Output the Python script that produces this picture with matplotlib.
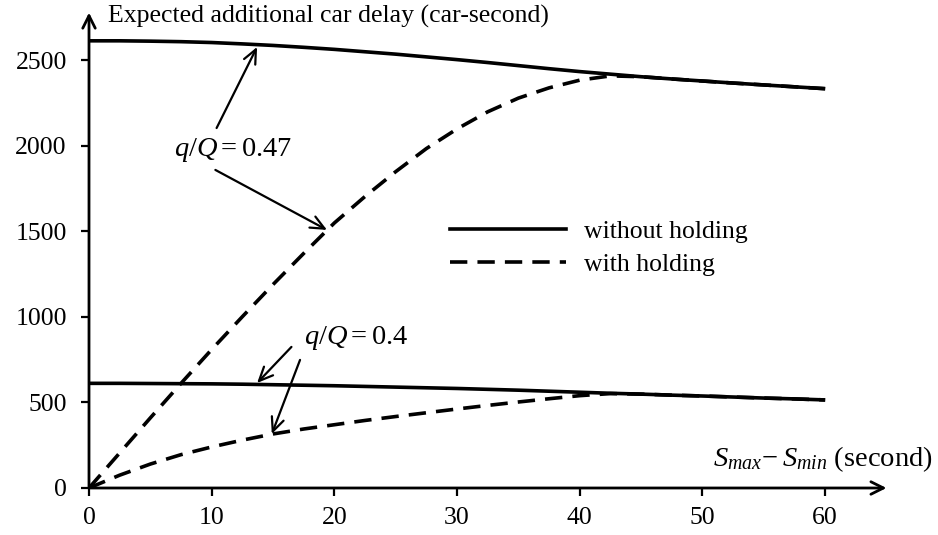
import matplotlib
matplotlib.use("Agg")
import matplotlib.pyplot as plt
from matplotlib.lines import Line2D

plt.rcParams['font.family'] = ['Liberation Serif', 'DejaVu Serif']
plt.rcParams['mathtext.fontset'] = 'custom'
plt.rcParams['mathtext.rm'] = 'Liberation Serif'
plt.rcParams['mathtext.it'] = 'Liberation Serif:italic'

# ---- data ----
x = [0, 2.5, 5, 7.5, 10, 12.5, 15, 17.5, 20, 22.5, 25, 27.5, 30, 32.5, 35,
     37.5, 40, 42.5, 45, 47.5, 50, 52.5, 55, 57.5, 60]
upper_without = [2615, 2615, 2613, 2610, 2605, 2597, 2588, 2577, 2565, 2551, 2537,
                 2521, 2505, 2488, 2470, 2452, 2435, 2420, 2405, 2392, 2380, 2368,
                 2357, 2346, 2335]
upper_with = [0, 205, 410, 612, 810, 1002, 1190, 1372, 1550, 1705, 1850, 1985,
              2100, 2200, 2280, 2340, 2385, 2410, 2405, 2392, 2380, 2368, 2357,
              2346, 2335]
lower_without = [612, 612, 611, 610, 609, 607, 604, 601, 598, 594, 590, 586, 582,
                 577, 572, 566, 560, 554, 549, 543, 538, 532, 526, 521, 515]
lower_with = [0, 75, 140, 195, 240, 280, 316, 345, 370, 395, 418, 440, 462, 483,
              503, 522, 540, 552, 549, 543, 538, 532, 526, 521, 515]
xticks = [0, 10, 20, 30, 40, 50, 60]
yticks = [0, 500, 1000, 1500, 2000, 2500]

W, H = 938, 535
fig = plt.figure(figsize=(W / 100, H / 100), dpi=100)
ax = fig.add_axes([89 / W, 47 / H, (886.5 - 89) / W, (488 - 12.6) / H])
ax.set_xlim(0, 65)
ax.set_ylim(0, 2780)

lw = 2.6
dash = (4.8, 2.8)
ax.plot(x, upper_without, color='black', lw=lw, solid_capstyle='butt')
ax.plot(x, lower_without, color='black', lw=lw, solid_capstyle='butt')
ax.plot(x, upper_with, color='black', lw=lw, dashes=dash)
ax.plot(x, lower_with, color='black', lw=lw, dashes=dash)

# axes as arrows
for s in ax.spines.values():
    s.set_visible(False)
ax.annotate('', xy=(65, 0), xytext=(0, 0), annotation_clip=False,
            arrowprops=dict(arrowstyle='->,head_length=0.9,head_width=0.45', lw=2,
                            color='black', shrinkA=0, shrinkB=0))
ax.annotate('', xy=(0, 2780), xytext=(0, 0), annotation_clip=False,
            arrowprops=dict(arrowstyle='->,head_length=0.9,head_width=0.45', lw=2,
                            color='black', shrinkA=0, shrinkB=0))

ax.set_xticks(xticks)
ax.set_yticks(yticks)
ax.tick_params(axis='both', direction='out', width=1.6, length=6, labelsize=18.5,
               color='black')
ax.tick_params(axis='y', pad=10)
ax.tick_params(axis='x', pad=8)

# annotations
arrow_kw = dict(arrowstyle='->,head_length=1.0,head_width=0.45', lw=1.6,
                color='black', shrinkA=0, shrinkB=0)
ax.text(11.7, 1977, r'$q/Q = 0.47$', fontsize=20.5, ha='center', va='center')
ax.annotate('', xy=(13.7, 2579), xytext=(10.4, 2105), arrowprops=arrow_kw)
ax.annotate('', xy=(19.4, 1509), xytext=(10.3, 1860), arrowprops=arrow_kw)
ax.text(21.8, 877, r'$q/Q = 0.4$', fontsize=20.5, ha='center', va='center')
ax.annotate('', xy=(13.7, 614), xytext=(16.5, 825), arrowprops=arrow_kw)
ax.annotate('', xy=(14.9, 316), xytext=(17.2, 749), arrowprops=arrow_kw)

# legend
handles = [Line2D([], [], color='black', lw=lw),
           Line2D([], [], color='black', lw=lw, dashes=dash)]
ax.legend(handles, ['without holding', 'with holding'], frameon=False,
          fontsize=18.5, handlelength=4.5, handletextpad=0.7, labelspacing=0.4,
          loc='upper left', bbox_to_anchor=(450 / W, (535 - 220) / H),
          bbox_transform=fig.transFigure, borderaxespad=0, borderpad=0)

fig.text(108 / W, (H - 23) / H, 'Expected additional car delay (car-second)',
         fontsize=18.5, ha='left', va='baseline')
fig.text(933 / W, (H - 466) / H, r'$S_{max}\!-S_{min}$ (second)',
         fontsize=20.5, ha='right', va='baseline')

fig.savefig('out.png', dpi=100)
